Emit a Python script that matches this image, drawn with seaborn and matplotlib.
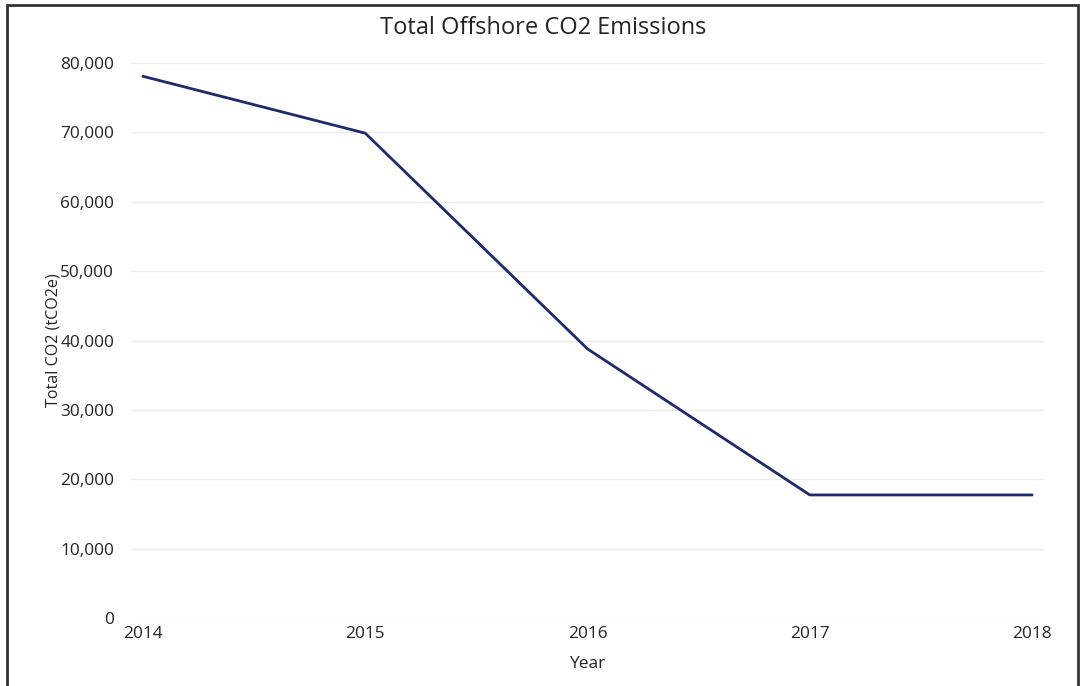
import matplotlib
matplotlib.use('Agg')
import matplotlib.pyplot as plt
import matplotlib.ticker as mticker
from matplotlib.patches import Rectangle
import pandas as pd
import seaborn as sns

# Chart data
years = [2014, 2015, 2016, 2017, 2018]
total_co2 = [78100, 69900, 38800, 17750, 17750]

df = pd.DataFrame({'Year': years, 'Total CO2 (tCO2e)': total_co2})

sns.set_theme(style="white")
plt.rcParams['font.family'] = ['Open Sans', 'DejaVu Sans']
text_color = '#252423'

fig = plt.figure(figsize=(10.82, 6.86), dpi=100)
ax = fig.add_axes([0.121, 0.099, 0.844, 0.809])

sns.lineplot(data=df, x='Year', y='Total CO2 (tCO2e)', color='#1f2a6e', linewidth=2, ax=ax)

ax.set_xlim(2013.946, 2018.054)
ax.set_ylim(0, 80000)
ax.set_xticks(years)
ax.set_yticks(range(0, 80001, 10000))
ax.yaxis.set_major_formatter(mticker.FuncFormatter(lambda v, p: f"{int(v):,}"))
ax.grid(axis='y', color='#ececec', linewidth=1)
ax.set_axisbelow(True)
for s in ax.spines.values():
    s.set_visible(False)
ax.tick_params(axis='both', labelsize=12.4, colors=text_color, length=0)
ax.tick_params(axis='x', pad=6)
ax.tick_params(axis='y', pad=12)

ax.set_xlabel('Year', fontsize=12.5, color=text_color, labelpad=10)
ax.set_ylabel('Total CO2 (tCO2e)', fontsize=11.6, color=text_color)
ax.yaxis.set_label_coords(-0.076, 0.5)
fig.text(0.502, 0.959, 'Total Offshore CO2 Emissions', ha='center', va='center',
         fontsize=17, color=text_color)

# outer frame
fig.patches.append(Rectangle((7 / 1082, -0.05), 1071 / 1082, 1.05 - 5 / 686,
                             transform=fig.transFigure, fill=False,
                             edgecolor='#333333', linewidth=2))

plt.savefig('out.png', dpi=100)
